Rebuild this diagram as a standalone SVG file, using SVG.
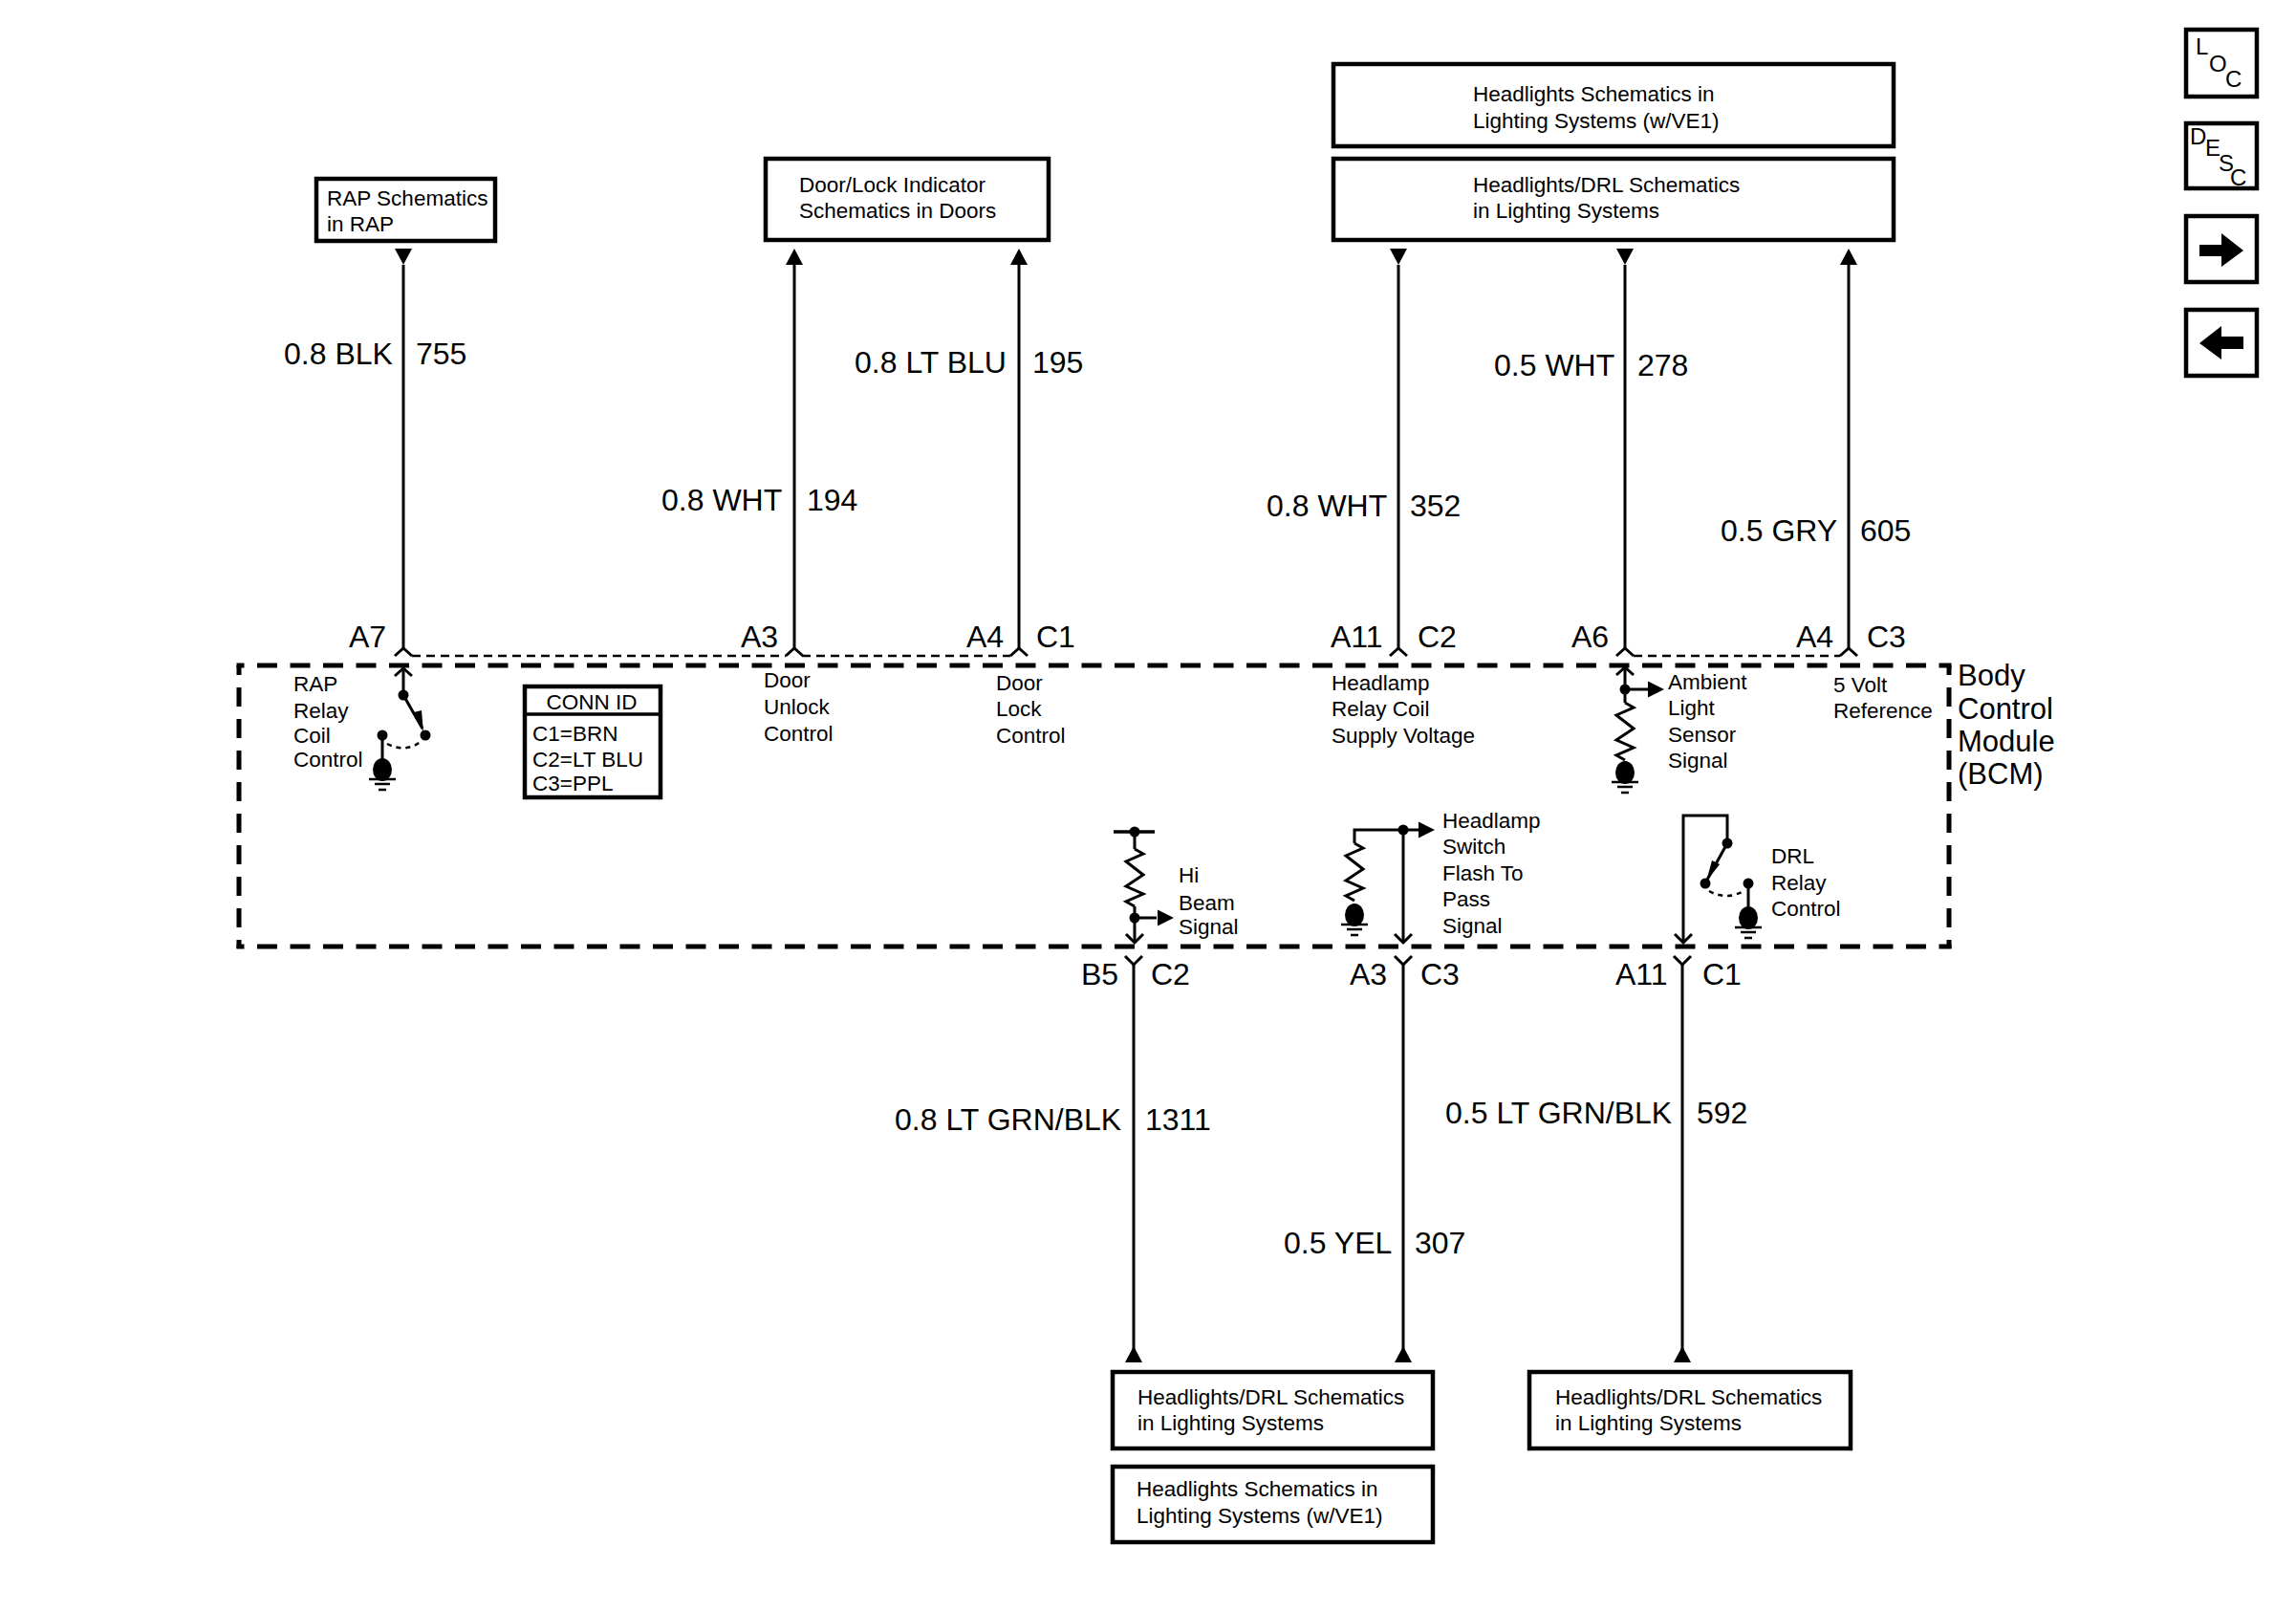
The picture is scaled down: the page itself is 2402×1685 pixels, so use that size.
<svg xmlns="http://www.w3.org/2000/svg" width="2402" height="1685" viewBox="0 0 2402 1685">
<style>
text{font-family:"Liberation Sans",Arial,sans-serif;fill:#000}
.s{font-size:22.5px}
.l{font-size:32px}
.b{font-size:31px}
.i{font-size:24px}
.box{fill:#fff;stroke:#000;stroke-width:4.5}
.w{fill:none;stroke:#000;stroke-width:3}
.t{fill:none;stroke:#000;stroke-width:3.5}
.d{fill:none;stroke:#000;stroke-width:5}
.dh{stroke-dasharray:21 13.5;stroke-dashoffset:13}
.dv{stroke-dasharray:20 13;stroke-dashoffset:10}
.td{fill:none;stroke:#000;stroke-width:2.5;stroke-dasharray:9 6}
.cv{fill:none;stroke:#000;stroke-width:2.5;stroke-dasharray:5 5}
</style>
<defs>
<path id="chevUp" d="M-9 8L0 0L9 8" fill="none" stroke="#000" stroke-width="3"/>
<path id="chevDn" d="M-9 -9L0 0L9 -9" fill="none" stroke="#000" stroke-width="3"/>
<polygon id="arrUp" points="0,0 9,17 -9,17" fill="#000"/>
<polygon id="arrDn" points="0,0 9,-17 -9,-17" fill="#000"/>
<polygon id="arrR" points="0,0 -17,-8.5 -17,8.5" fill="#000"/>
<g id="gnd">
<ellipse cx="0" cy="0" rx="10" ry="12" fill="#000"/>
<path d="M-14 10H14M-8 15H8M-4 21H4" fill="none" stroke="#000" stroke-width="2.5"/>
</g>
<path id="zig" d="M0 0L9 5L-9 13L9 27L-9 39L9 47L-9 55L0 60" fill="none" stroke="#000" stroke-width="3"/>
</defs>

<g id="connectors">
<path class="td" d="M431 686H822M839 686H1057"/>
<path class="td" d="M1709 686H1925"/>
<path class="w" d="M422 277V678M831 277V678M1066 277V678M1463 277V678M1700 277V678M1934 277V678"/>
<path class="w" d="M1186 1009V1425M1468 1009V1425M1760 1009V1425"/>
<use href="#arrDn" x="422" y="277"/>
<use href="#arrUp" x="831" y="260"/>
<use href="#arrUp" x="1066" y="260"/>
<use href="#arrDn" x="1463" y="277"/>
<use href="#arrDn" x="1700" y="277"/>
<use href="#arrUp" x="1934" y="260"/>
<use href="#arrUp" x="1186" y="1408"/>
<use href="#arrUp" x="1468" y="1408"/>
<use href="#arrUp" x="1760" y="1408"/>
<use href="#chevUp" x="422" y="678"/>
<use href="#chevUp" x="831" y="678"/>
<use href="#chevUp" x="1066" y="678"/>
<use href="#chevUp" x="1463" y="678"/>
<use href="#chevUp" x="1700" y="678"/>
<use href="#chevUp" x="1934" y="678"/>
<use href="#chevDn" x="1186" y="1009"/>
<use href="#chevDn" x="1468" y="1009"/>
<use href="#chevDn" x="1760" y="1009"/>
<g class="l">
<text x="297" y="381">0.8 BLK</text><text x="435" y="381">755</text>
<text x="692" y="534">0.8 WHT</text><text x="844" y="534">194</text>
<text x="894" y="390">0.8 LT BLU</text><text x="1080" y="390">195</text>
<text x="1325" y="540">0.8 WHT</text><text x="1475" y="540">352</text>
<text x="1563" y="393">0.5 WHT</text><text x="1713" y="393">278</text>
<text x="1800" y="566">0.5 GRY</text><text x="1946" y="566">605</text>
<text x="936" y="1182">0.8 LT GRN/BLK</text><text x="1198" y="1182">1311</text>
<text x="1343" y="1311">0.5 YEL</text><text x="1480" y="1311">307</text>
<text x="1512" y="1175">0.5 LT GRN/BLK</text><text x="1775" y="1175">592</text>
<text x="365" y="677">A7</text>
<text x="775" y="677">A3</text>
<text x="1011" y="677">A4</text><text x="1084" y="677">C1</text>
<text x="1392" y="677">A11</text><text x="1483" y="677">C2</text>
<text x="1644" y="677">A6</text>
<text x="1879" y="677">A4</text><text x="1953" y="677">C3</text>
<text x="1131" y="1030">B5</text><text x="1204" y="1030">C2</text>
<text x="1412" y="1030">A3</text><text x="1486" y="1030">C3</text>
<text x="1690" y="1030">A11</text><text x="1781" y="1030">C1</text>
</g>
</g>

<g id="bcm">
<path class="d dh" d="M247.5 696H2041.5M247.5 990H2041.5"/>
<path class="d dv" d="M250 696V992M2039 696V992"/>
<g class="b">
<text x="2048" y="717">Body</text><text x="2048" y="752">Control</text><text x="2048" y="786">Module</text><text x="2048" y="820">(BCM)</text>
</g>
</g>

<g id="box-rap"><rect class="box" x="331" y="187" width="187" height="65"/>
<text class="s" x="342" y="215">RAP Schematics</text><text class="s" x="342" y="242">in RAP</text></g>
<g id="box-door"><rect class="box" x="801" y="166" width="296" height="85"/>
<text class="s" x="836" y="201">Door/Lock Indicator</text><text class="s" x="836" y="228">Schematics in Doors</text></g>
<g id="box-headlights-top"><rect class="box" x="1395" y="67" width="586" height="86"/>
<text class="s" x="1541" y="106">Headlights Schematics in</text><text class="s" x="1541" y="134">Lighting Systems (w/VE1)</text></g>
<g id="box-drl-top"><rect class="box" x="1395" y="166" width="586" height="85"/>
<text class="s" x="1541" y="201">Headlights/DRL Schematics</text><text class="s" x="1541" y="228">in Lighting Systems</text></g>
<g id="box-drl-bottom-left"><rect class="box" x="1164" y="1435" width="335" height="80"/>
<text class="s" x="1190" y="1469">Headlights/DRL Schematics</text><text class="s" x="1190" y="1496">in Lighting Systems</text></g>
<g id="box-headlights-bottom"><rect class="box" x="1164" y="1534" width="335" height="79"/>
<text class="s" x="1189" y="1565">Headlights Schematics in</text><text class="s" x="1189" y="1593">Lighting Systems (w/VE1)</text></g>
<g id="box-drl-bottom-right"><rect class="box" x="1600" y="1435" width="336" height="80"/>
<text class="s" x="1627" y="1469">Headlights/DRL Schematics</text><text class="s" x="1627" y="1496">in Lighting Systems</text></g>

<g id="conn-id"><rect class="box" x="549" y="718" width="142" height="116"/>
<path class="t" d="M549 747H691"/>
<text class="s" x="619" y="742" text-anchor="middle">CONN ID</text>
<text class="s" x="557" y="775">C1=BRN</text><text class="s" x="557" y="802">C2=LT BLU</text><text class="s" x="557" y="827">C3=PPL</text></g>

<g id="rap-relay">
<text class="s" x="307" y="723">RAP</text><text class="s" x="307" y="751">Relay</text><text class="s" x="307" y="777">Coil</text><text class="s" x="307" y="802">Control</text>
<path class="w" d="M422 699V727L442 762"/>
<use href="#chevUp" x="422" y="699"/>
<circle cx="422" cy="727" r="5.5"/>
<polygon points="443,766 433,745 441,743"/>
<circle cx="445" cy="769" r="5.5"/><circle cx="400" cy="769" r="5.5"/>
<path class="cv" d="M405 778Q425 788 441 775"/>
<path class="w" d="M400 769V800"/>
<use href="#gnd" x="400" y="805"/>
</g>

<g id="door-unlock"><text class="s" x="799" y="719">Door</text><text class="s" x="799" y="747">Unlock</text><text class="s" x="799" y="775">Control</text></g>
<g id="door-lock"><text class="s" x="1042" y="722">Door</text><text class="s" x="1042" y="749">Lock</text><text class="s" x="1042" y="777">Control</text></g>
<g id="headlamp-relay"><text class="s" x="1393" y="722">Headlamp</text><text class="s" x="1393" y="749">Relay Coil</text><text class="s" x="1393" y="777">Supply Voltage</text></g>

<g id="ambient">
<use href="#chevUp" x="1700" y="698"/>
<path class="w" d="M1700 698V735M1700 721H1724"/>
<circle cx="1700" cy="721" r="5.5"/>
<use href="#arrR" x="1741" y="721"/>
<use href="#zig" x="1700" y="735"/>
<use href="#gnd" x="1700" y="808"/>
<text class="s" x="1745" y="721">Ambient</text><text class="s" x="1745" y="748">Light</text><text class="s" x="1745" y="776">Sensor</text><text class="s" x="1745" y="803">Signal</text>
</g>

<g id="five-volt"><text class="s" x="1918" y="724">5 Volt</text><text class="s" x="1918" y="751">Reference</text></g>

<g id="hi-beam">
<path class="t" d="M1165 870H1208"/>
<circle cx="1187" cy="870" r="5.5"/>
<path class="w" d="M1187 870V888M1187 948V986M1187 960H1210"/>
<use href="#zig" x="1187" y="888"/>
<circle cx="1187" cy="960" r="5.5"/>
<use href="#arrR" x="1228" y="960"/>
<use href="#chevDn" x="1187" y="986"/>
<text class="s" x="1233" y="923">Hi</text><text class="s" x="1233" y="952">Beam</text><text class="s" x="1233" y="977">Signal</text>
</g>

<g id="flash-to-pass">
<path class="w" d="M1417 882V868H1486M1468 868V986"/>
<circle cx="1468" cy="868" r="5.5"/>
<use href="#arrR" x="1501" y="868"/>
<use href="#zig" x="1417" y="882"/>
<use href="#gnd" x="1417" y="957"/>
<use href="#chevDn" x="1468" y="986"/>
<text class="s" x="1509" y="866">Headlamp</text><text class="s" x="1509" y="893">Switch</text><text class="s" x="1509" y="921">Flash To</text><text class="s" x="1509" y="948">Pass</text><text class="s" x="1509" y="976">Signal</text>
</g>

<g id="drl-relay">
<path class="w" d="M1761 986V853H1807V882L1786 920"/>
<use href="#chevDn" x="1761" y="986"/>
<circle cx="1807" cy="882" r="5.5"/>
<polygon points="1785,922 1791,900 1799,904"/>
<circle cx="1784" cy="924" r="5.5"/><circle cx="1829" cy="924" r="5.5"/>
<path class="cv" d="M1788 932Q1806 942 1824 932"/>
<path class="w" d="M1829 924V955"/>
<use href="#gnd" x="1829" y="960"/>
<text class="s" x="1853" y="903">DRL</text><text class="s" x="1853" y="931">Relay</text><text class="s" x="1853" y="958">Control</text>
</g>

<g id="icon-loc"><rect class="box" x="2287" y="31" width="74" height="70"/>
<text class="i" x="2297" y="57">L</text><text class="i" x="2311" y="75">O</text><text class="i" x="2328" y="91">C</text></g>
<g id="icon-desc"><rect class="box" x="2287" y="129" width="74" height="68"/>
<text class="i" x="2291" y="151">D</text><text class="i" x="2307" y="163">E</text><text class="i" x="2321" y="179">S</text><text class="i" x="2333" y="194">C</text></g>
<g id="icon-next"><rect class="box" x="2287" y="226" width="74" height="69"/>
<polygon points="2301,256 2324,256 2324,244 2347,262 2324,279 2324,268 2301,268"/></g>
<g id="icon-prev"><rect class="box" x="2287" y="324" width="74" height="69"/>
<polygon points="2347,352 2324,352 2324,341 2301,359 2324,376 2324,365 2347,365"/></g>
</svg>
